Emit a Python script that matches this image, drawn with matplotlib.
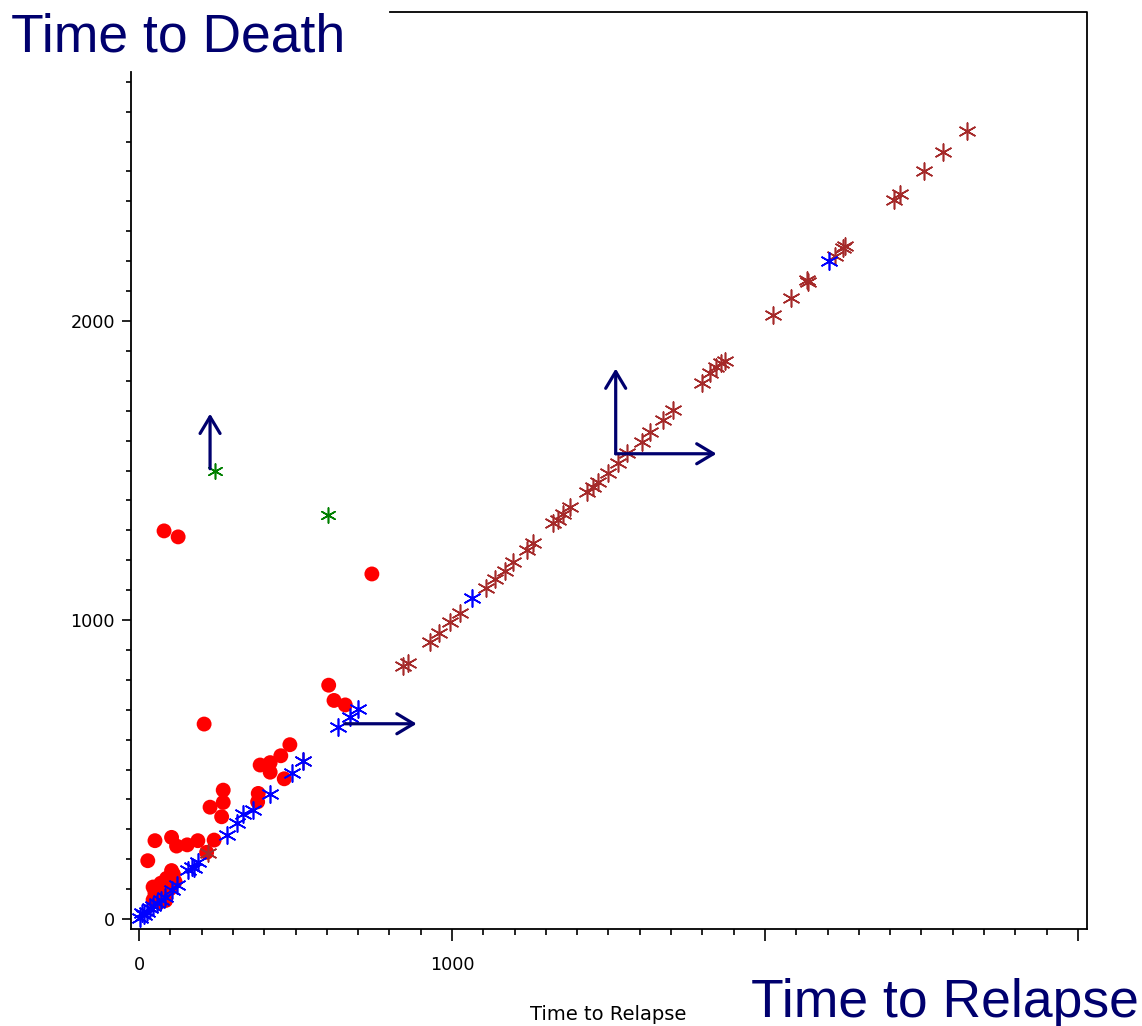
import matplotlib
matplotlib.use("Agg")
import matplotlib.pyplot as plt
from matplotlib.lines import Line2D
from matplotlib.ticker import FixedLocator

# ---------------- data ----------------
red_x = [606, 623, 659, 208, 482, 453, 387, 419, 419, 464, 269, 381, 379, 269, 227, 264,
         51, 104, 120, 154, 188, 240, 216, 28, 104, 88, 115, 99,
         45, 51, 58, 67, 77, 83, 45, 73, 61, 70, 90, 95, 110, 60, 85, 100,
         80, 125, 744]
red_y = [782, 731, 716, 652, 583, 546, 515, 523, 491, 469, 431, 420, 392, 390, 374, 342,
         262, 273, 244, 248, 262, 264, 223, 195, 162, 136, 125, 141,
         107, 87, 70, 57, 77, 97, 64, 114, 90, 120, 110, 128, 150, 100, 62, 102,
         1298, 1278, 1154]

blue_x = [2, 9, 15, 25, 35, 45, 57, 70, 83, 104, 120, 158, 168, 175, 190, 280, 312, 333,
          365, 419, 488, 525, 637, 674, 701, 1064, 2204]
blue_y = [3, 19, 12, 25, 36, 42, 52, 63, 75, 97, 115, 164, 175, 170, 192, 281, 320, 351,
          365, 417, 487, 528, 643, 675, 701, 1074, 2201]

brown_x = [222, 525, 845, 860, 930, 957, 994, 1026, 1109, 1137, 1169, 1196, 1239, 1260,
           1324, 1340, 1356, 1377, 1430, 1452, 1467, 1499, 1531, 1558, 1606, 1633, 1673,
           1707, 1798, 1824, 1845, 1861, 1872, 2027, 2082, 2138, 2133, 2224, 2250, 2256,
           2412, 2431, 2509, 2570, 2644]
brown_y = [222, 528, 846, 857, 927, 955, 994, 1024, 1106, 1136, 1165, 1195, 1234, 1256,
           1323, 1336, 1356, 1379, 1429, 1446, 1462, 1493, 1526, 1557, 1596, 1630, 1669,
           1704, 1794, 1827, 1847, 1860, 1867, 2020, 2078, 2131, 2137, 2217, 2245, 2251,
           2403, 2425, 2502, 2564, 2635]

green_x = [243, 604]
green_y = [1498, 1351]

# censoring arrows (start -> end)
arrow_start_x = [227, 658, 1523, 1523]
arrow_start_y = [1506, 653, 1556, 1556]
arrow_end_x = [227, 887, 1523, 1845]
arrow_end_y = [1690, 653, 1841, 1556]

x_major = [0, 1000, 2000, 3000]
x_labels = ["0", "1000", "", ""]
x_minor = list(range(0, 3001, 100))
y_major = [0, 1000, 2000]
y_labels = ["0", "1000", "2000"]
y_minor = list(range(0, 2801, 100))

# ---------------- figure ----------------
W, H = 1142, 1026
fig = plt.figure(figsize=(W / 100, H / 100), dpi=100)
L, R, B, T = 131, 1087, 929, 12
ax = fig.add_axes([L / W, 1 - B / H, (R - L) / W, (B - T) / H])

ax.set_xlim(-25.6, 3028.8)
ax.set_ylim(-33.4, 3033.4)

navy = "#00006e"
ast = (6, 2, 0)
ax.scatter(red_x, red_y, s=115, marker="o", color="#ff0000", edgecolors="none", zorder=3)
ax.scatter(blue_x, blue_y, s=150, marker=ast, color="#0000ff", linewidths=1.2, zorder=4)
ax.scatter(brown_x, brown_y, s=150, marker=ast, color="#a52a2a", linewidths=1.15, zorder=3)
ax.scatter(green_x, green_y, s=120, marker=ast, color="#008000", linewidths=1.15, zorder=3)

for sx, sy, ex, ey in zip(arrow_start_x, arrow_start_y, arrow_end_x, arrow_end_y):
    ax.annotate("", xy=(ex, ey), xytext=(sx, sy),
                arrowprops=dict(arrowstyle="->,head_length=0.4,head_width=0.24",
                                lw=2.3, color=navy, shrinkA=0, shrinkB=0,
                                mutation_scale=30), zorder=5)

# spines
ax.spines["top"].set_visible(False)
ax.spines["right"].set_visible(False)
ax.spines["left"].set_linewidth(1.3)
ax.spines["bottom"].set_linewidth(1.3)
ax.spines["left"].set_bounds(-33.4, 2833)
# partial frame (top and right)
xf = (390 - L) / (R - L)
ax.add_line(Line2D([xf, 1, 1], [1, 1, 0], transform=ax.transAxes, color="black",
                   lw=1.3, clip_on=False))

ax.xaxis.set_major_locator(FixedLocator(x_major))
ax.set_xticklabels(x_labels)
ax.yaxis.set_major_locator(FixedLocator(y_major))
ax.set_yticklabels(y_labels)
ax.xaxis.set_minor_locator(FixedLocator(x_minor))
ax.yaxis.set_minor_locator(FixedLocator(y_minor))

ax.tick_params(axis="x", which="major", direction="out", length=8.5, width=1.2,
               pad=11, labelsize=12.7)
ax.tick_params(axis="x", which="minor", direction="out", length=4, width=1.2)
ax.tick_params(axis="y", which="major", direction="out", length=6.5, width=1.2,
               pad=5, labelsize=12.7)
ax.tick_params(axis="y", which="minor", direction="out", length=3.5, width=1.2)
for lab in ax.get_xticklabels() + ax.get_yticklabels():
    lab.set_family("DejaVu Sans")

# texts
fig.text(608 / W, 1 - 1020 / H, "Time to Relapse", ha="center", va="baseline",
         fontsize=14, family="DejaVu Sans")
fig.text(11 / W, 1 - 52 / H, "Time to Death", ha="left", va="baseline",
         fontsize=38.5, family="Liberation Sans", color=navy)
fig.text(1139 / W, 1 - 1017 / H, "Time to Relapse", ha="right", va="baseline",
         fontsize=38.5, family="Liberation Sans", color=navy)

fig.savefig("out.png", dpi=100)
